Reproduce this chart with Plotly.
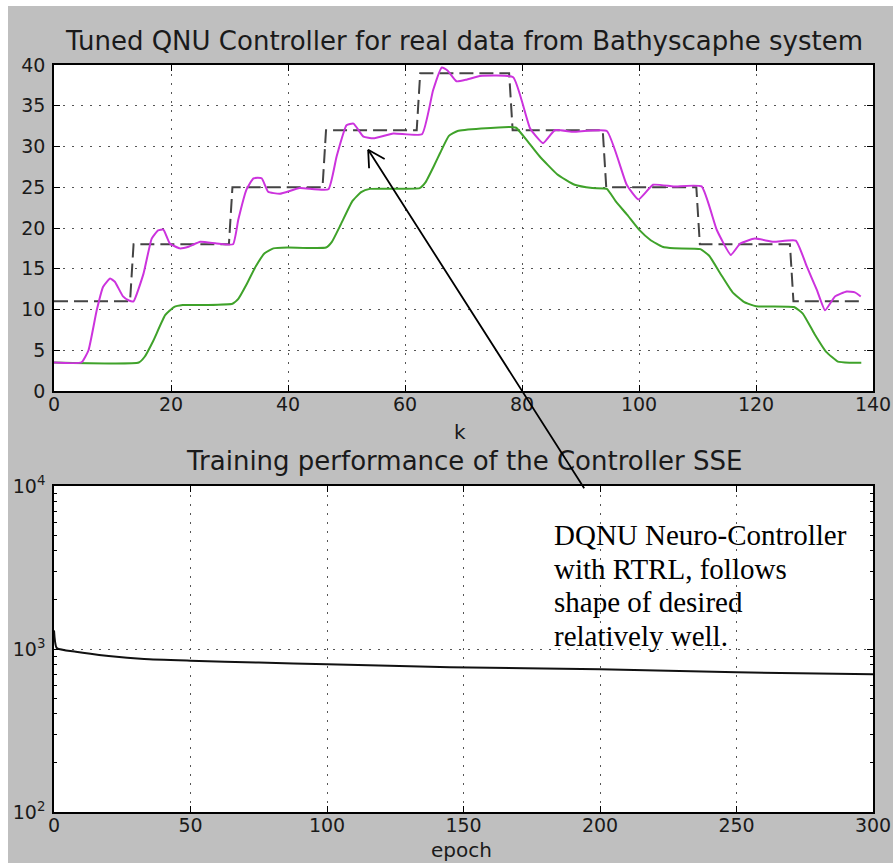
import plotly.graph_objects as go

# desired depth (step reference), read at the step edges
desired_k = [0, 13, 13.6, 29.9, 30.5, 45.9, 46.5, 62.0, 62.6, 77.8, 78.4,
             93.8, 94.4, 109.8, 110.4, 125.8, 126.4, 138]
desired_v = [11, 11, 18, 18, 25, 25, 32, 32, 39, 39, 32,
             32, 25, 25, 18, 18, 11, 11]

# DQNU neuro-controller output (magenta)
ctrl_k = [0, 4.7, 5.9, 7.3, 8.4, 9.6, 10.4, 11.8, 12.8, 13.6, 15.3, 16.7, 17.8,
          18.7, 19.8, 21.5, 23, 25, 27.8, 30.6, 31.5, 32.9, 34.1, 35.5, 36.6,
          38.6, 42, 46.9, 48.3, 50, 51.2, 52.9, 54.6, 58, 62.9, 64.8, 66.3,
          67.3, 68.8, 70.5, 72.8, 78.5, 81.4, 83.6, 85.6, 88.8, 94.5, 97.9,
          99.9, 102.4, 105.9, 110.7, 113.3, 115.7, 117.3, 119.8, 123, 126.8,
          128.7, 130.4, 131.8, 133.5, 135.5, 136.9, 137.9]
ctrl_v = [3.5, 3.5, 5.0, 9.9, 12.8, 13.8, 13.4, 11.6, 11.1, 11.0, 14.4, 18.7,
          19.7, 19.8, 18.1, 17.5, 17.7, 18.3, 18.1, 18.0, 21.0, 24.7, 26.1,
          26.1, 24.45, 24.2, 24.9, 24.75, 28.75, 32.6, 32.8, 31.2, 31.0, 31.6,
          31.5, 36.9, 39.7, 39.3, 38.0, 38.2, 38.65, 38.5, 32.2, 30.4, 32.0,
          31.8, 31.9, 25.3, 23.5, 25.3, 25.1, 25.1, 19.75, 16.7, 18.1, 18.7,
          18.3, 18.45, 15.25, 12.4, 9.9, 11.6, 12.2, 12.1, 11.6]

# plant output (green)
plant_k = [0, 14.5, 15.5, 17, 19, 20.5, 22, 26, 30.5, 31.5, 33, 34.5, 36, 37.5,
           40, 46.5, 47.5, 49, 51, 52.5, 54, 62.5, 63.5, 65, 66, 67.5, 69, 73,
           78, 79, 81, 83, 86, 89, 92, 94.5, 96, 98, 100, 102, 104, 106, 110.5,
           112, 114, 116, 118, 120, 126.5, 128, 130, 132, 134, 136, 138]
plant_v = [3.5, 3.5, 4.2, 6.2, 9.3, 10.3, 10.55, 10.55, 10.7, 11.3, 13.2, 15.3,
           16.9, 17.5, 17.6, 17.6, 18.3, 20.4, 23.3, 24.4, 24.8, 24.9, 25.6,
           27.7, 29.2, 31.3, 31.9, 32.2, 32.4, 32.3, 30.6, 28.8, 26.6, 25.3,
           24.9, 24.8, 23.3, 21.6, 19.8, 18.5, 17.7, 17.5, 17.4, 16.6, 14.3,
           12.1, 10.9, 10.4, 10.3, 9.5, 7.0, 4.8, 3.6, 3.47, 3.47]

# training SSE per epoch
epoch = [0, 1, 8, 20, 33, 50, 75, 100, 145, 200, 250, 300]
sse = [1300, 1015, 962, 906, 868, 848, 825, 805, 773, 750, 719, 700]

top_xticks = [0, 20, 40, 60, 80, 100, 120, 140]
top_yticks = [0, 5, 10, 15, 20, 25, 30, 35, 40]
bot_xticks = [0, 50, 100, 150, 200, 250, 300]
bot_yticks = [100, 1000, 10000]
bot_ylabels = ["10<sup>2</sup>", "10<sup>3</sup>", "10<sup>4</sup>"]

callout_lines = ["DQNU Neuro-Controller", "with RTRL, follows",
                 "shape of desired", "relatively well."]

BG = "#bfbfbf"
TICKFONT = dict(family="DejaVu Sans", size=19, color="#1a1a1a")

fig = go.Figure()
fig.add_trace(go.Scatter(x=desired_k, y=desired_v, mode="lines",
                         line=dict(color="#444444", width=2, dash="14px,6px"),
                         xaxis="x", yaxis="y"))
fig.add_trace(go.Scatter(x=plant_k, y=plant_v, mode="lines",
                         line=dict(color="#3fa22a", width=2, shape="spline", smoothing=0.4),
                         xaxis="x", yaxis="y"))
fig.add_trace(go.Scatter(x=ctrl_k, y=ctrl_v, mode="lines",
                         line=dict(color="#cc33dd", width=2, shape="spline", smoothing=0.4),
                         xaxis="x", yaxis="y"))
fig.add_trace(go.Scatter(x=epoch, y=sse, mode="lines",
                         line=dict(color="#111111", width=2, shape="spline", smoothing=0.5),
                         xaxis="x2", yaxis="y2"))

axis_common = dict(showline=True, linecolor="black", linewidth=1.5,
                   mirror="allticks", ticks="inside", ticklen=6,
                   tickcolor="black", tickwidth=1, showgrid=True,
                   gridcolor="#555555", gridwidth=1, griddash="2px,7px",
                   zeroline=False, tickfont=TICKFONT, automargin=False)
xaxis_common = dict(axis_common, ticklabelstandoff=-5)
yaxis_common = dict(axis_common, ticklabelstandoff=3)

# the page body is given an 8px left / 6px top white border (see post_script)
fig.update_layout(
    width=885, height=857,
    paper_bgcolor=BG, plot_bgcolor="white",
    showlegend=False,
    margin=dict(l=46, r=20, t=59, b=51),
    xaxis=dict(domain=[0, 1], range=[0, 140], tickvals=top_xticks,
               anchor="y", **xaxis_common),
    yaxis=dict(domain=[0.5636, 1], range=[0, 40], tickvals=top_yticks,
               anchor="x", **yaxis_common),
    xaxis2=dict(domain=[0, 1], range=[0, 300], tickvals=bot_xticks,
                anchor="y2", **xaxis_common),
    yaxis2=dict(domain=[0, 0.4364], type="log", range=[2, 4],
                tickvals=bot_yticks, ticktext=bot_ylabels, anchor="x2",
                minor=dict(ticks="inside", ticklen=3, tickcolor="black",
                           dtick="D1", showgrid=False),
                **yaxis_common),
)

title_font = dict(family="DejaVu Sans", size=26, color="#1a1a1a")
label_font = dict(family="DejaVu Sans", size=20, color="#1a1a1a")
fig.add_annotation(text="Tuned QNU Controller for real data from Bathyscaphe system",
                   xref="paper", yref="paper", x=0.5, y=1.0321,
                   xanchor="center", yanchor="middle", showarrow=False, font=title_font)
fig.add_annotation(text="Training performance of the Controller SSE",
                   xref="paper", yref="paper", x=0.5, y=0.4699,
                   xanchor="center", yanchor="middle", showarrow=False, font=title_font)
fig.add_annotation(text="k", xref="paper", yref="paper", x=0.4957, y=0.5087,
                   xanchor="center", yanchor="middle", showarrow=False, font=label_font)
fig.add_annotation(text="epoch", xref="paper", yref="paper", x=0.4976, y=-0.0509,
                   xanchor="center", yanchor="middle", showarrow=False, font=label_font)

# callout text, one annotation per line for tighter line spacing
for i, line in enumerate(callout_lines):
    fig.add_annotation(text=line, xref="paper", yref="paper",
                       x=0.608, y=0.3949 - i * 0.0449,
                       xanchor="left", yanchor="top", align="left", showarrow=False,
                       font=dict(family="Liberation Serif", size=29, color="black"))

# arrow: shaft plus two open-head arms
tip_k, tip_v = 53.7, 29.6
for ax, ay in [(217, 340), (1, 20), (18, 10)]:
    fig.add_annotation(x=tip_k, y=tip_v, xref="x", yref="y", ax=ax, ay=ay,
                       text="", showarrow=True, arrowhead=0, arrowwidth=1.8,
                       arrowcolor="black", standoff=0, startstandoff=0)

fig.write_html("out.html", post_script="document.body.style.margin='6px 0 0 8px';")
